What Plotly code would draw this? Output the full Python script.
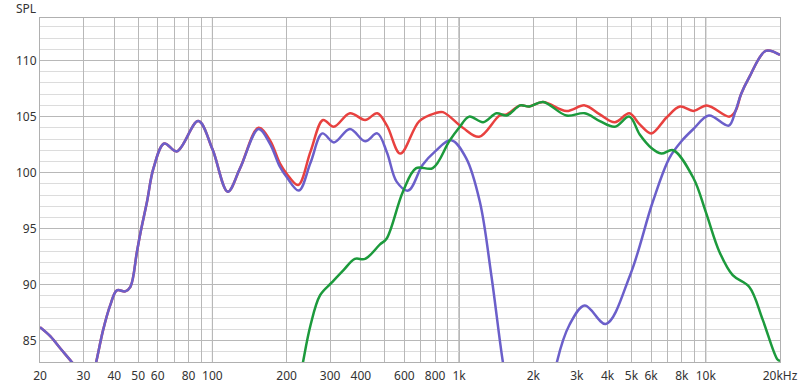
import plotly.graph_objects as go

# ---- data (Hz, dB SPL) ----
blue_f = [20, 22, 24.2, 26.9, 28.5, 30.5, 33, 33.8, 36, 38.5, 41, 44.3, 46.5, 49.4, 51, 54.3,
          57.7, 63.8, 71.8, 87.6, 100, 115.4, 129.5, 153.8, 171, 188, 200, 224, 250, 279, 311,
          361, 416, 466, 510, 558, 622, 712, 800, 930, 1068, 1214, 1352, 1506, 1650, 1900,
          2300, 2490, 2800, 3232, 3932, 4935, 6100, 7120, 7970, 8920, 10300, 12400, 13200,
          13900, 15000, 17500, 20000]
blue_db = [86.2, 85.4, 84.3, 83.1, 82.4, 80.7, 82.2, 83.1, 85.9, 88.15, 89.5, 89.4, 89.8, 92.9, 94.55, 97.4,
           100.4, 102.6, 101.9, 104.6, 102.1, 98.3, 100.4, 103.9, 102.6, 100.5, 99.6, 98.4, 100.9, 103.5, 102.7,
           103.9, 102.8, 103.5, 101.8, 99.2, 98.4, 100.7, 101.9, 102.9, 101.3, 97.4, 90.8, 83.05, 78, 70,
           78, 83.05, 86.4, 88.15, 86.5, 90.85, 97.4, 101.3, 102.8, 103.9, 105.1, 104.2, 105.5,
           107.0, 108.5, 110.86, 110.5]

red_f = [20, 22, 24.2, 26.9, 28.5, 30.5, 33, 33.8, 36, 38.5, 41, 44.3, 46.5, 49.4, 51, 54.3,
         57.7, 63.8, 71.8, 87.6, 100, 115.4, 129.5, 153.8, 171, 188, 200, 222.6, 250, 281, 310.6,
         361, 416, 466, 510, 578, 690, 800, 860, 1036, 1206, 1461, 1560, 1770, 1926, 2190,
         2724, 3232, 3720, 4280, 4900, 5400, 6020, 6920, 7860, 8920, 10100, 12480, 13200,
         13900, 15000, 17500, 20000]
red_db = [86.2, 85.4, 84.3, 83.1, 82.4, 80.7, 82.2, 83.1, 85.9, 88.15, 89.5, 89.4, 89.8, 92.9, 94.55, 97.4,
          100.4, 102.6, 101.9, 104.6, 102.1, 98.3, 100.4, 104.0, 102.9, 100.8, 99.9, 98.9, 101.9, 104.7, 104.1,
          105.3, 104.7, 105.3, 104.2, 101.7, 104.6, 105.3, 105.4, 104.0, 103.2, 105.1, 105.2, 106.0, 105.9, 106.3,
          105.5, 106.0, 105.2, 104.5, 105.3, 104.3, 103.5, 104.9, 105.9, 105.5, 106.0, 105.0, 105.5,
          107.0, 108.5, 110.86, 110.5]

green_f = [200, 220, 233, 250, 273, 305, 340, 378, 416, 478, 508, 592, 670, 782, 912, 1000,
           1099, 1252, 1417, 1560, 1770, 1926, 2190, 2724, 3232, 3720, 4280, 4900, 5400, 6020,
           6600, 7380, 8920, 10000, 11380, 12860, 15020, 17000, 19500, 20000]
green_db = [75, 80, 83.1, 86.4, 89.05, 90.2, 91.3, 92.3, 92.3, 93.6, 94.1, 98.3, 100.4, 100.4, 102.8, 104.0,
            105.0, 104.5, 105.3, 105.1, 106.0, 105.9, 106.3, 105.1, 105.3, 104.6, 104.1, 105.0, 103.4, 102.2,
            101.7, 102.0, 99.5, 96.5, 92.9, 90.85, 89.8, 86.9, 83.35, 83.2]

x_tickvals = [20, 30, 40, 50, 60, 70, 80, 90, 100, 200, 300, 400, 500, 600, 700, 800, 900,
              1000, 2000, 3000, 4000, 5000, 6000, 7000, 8000, 9000, 10000, 20000]
x_ticktext = ["20", "30", "40", "50", "60", "", "80", "", "100", "200", "300", "400", "", "600", "", "800", "",
              "1k", "2k", "3k", "4k", "5k", "6k", "", "8k", "", "10k", "20kHz"]
y_tickvals = [85, 90, 95, 100, 105, 110]
decades = [100, 1000, 10000]

RED = "#e8413f"
BLUE = "#6b5fca"
GREEN = "#1c9a3c"

fig = go.Figure()
fig.add_trace(go.Scatter(x=red_f, y=red_db, mode="lines", line=dict(color=RED, width=2.5, shape="spline"),
                         hoverinfo="skip"))
fig.add_trace(go.Scatter(x=blue_f, y=blue_db, mode="lines", line=dict(color=BLUE, width=2.5, shape="spline"),
                         hoverinfo="skip"))
fig.add_trace(go.Scatter(x=green_f, y=green_db, mode="lines", line=dict(color=GREEN, width=2.5, shape="spline"),
                         hoverinfo="skip"))

for d in decades:
    fig.add_shape(type="line", xref="x", yref="paper", x0=d, x1=d, y0=0, y1=1,
                  line=dict(color="#858585", width=1), layer="below")

font = dict(family="Noto Sans, Open Sans, sans-serif", size=12, color="#333333")

fig.update_layout(
    width=800, height=387,
    margin=dict(l=40, r=20, t=18, b=25),
    paper_bgcolor="white", plot_bgcolor="white",
    showlegend=False,
    font=font,
    xaxis=dict(type="log", range=[1.30103, 4.30103], tickmode="array", tickvals=x_tickvals,
               ticktext=x_ticktext, showgrid=True, gridcolor="#b8b8b8", gridwidth=1,
               showline=True, linecolor="#b0b0b0", linewidth=1, mirror=True,
               ticks="outside", ticklen=3, tickcolor="rgba(0,0,0,0)",
               zeroline=False, tickfont=font, automargin=False),
    yaxis=dict(range=[83.1, 113.8], tickmode="array", tickvals=y_tickvals, showgrid=True,
               gridcolor="#b8b8b8", gridwidth=1, showline=True, linecolor="#b0b0b0", linewidth=1,
               mirror=True, ticks="", zeroline=False, tickfont=font, automargin=False,
               minor=dict(dtick=1, showgrid=True, gridcolor="#dcdcdc", gridwidth=1, ticks="")),
    annotations=[dict(text="SPL", xref="paper", yref="paper", x=0, y=1, xanchor="right",
                      yanchor="middle", xshift=-2, yshift=10, showarrow=False, font=font)],
)

fig.write_html("out.html")
